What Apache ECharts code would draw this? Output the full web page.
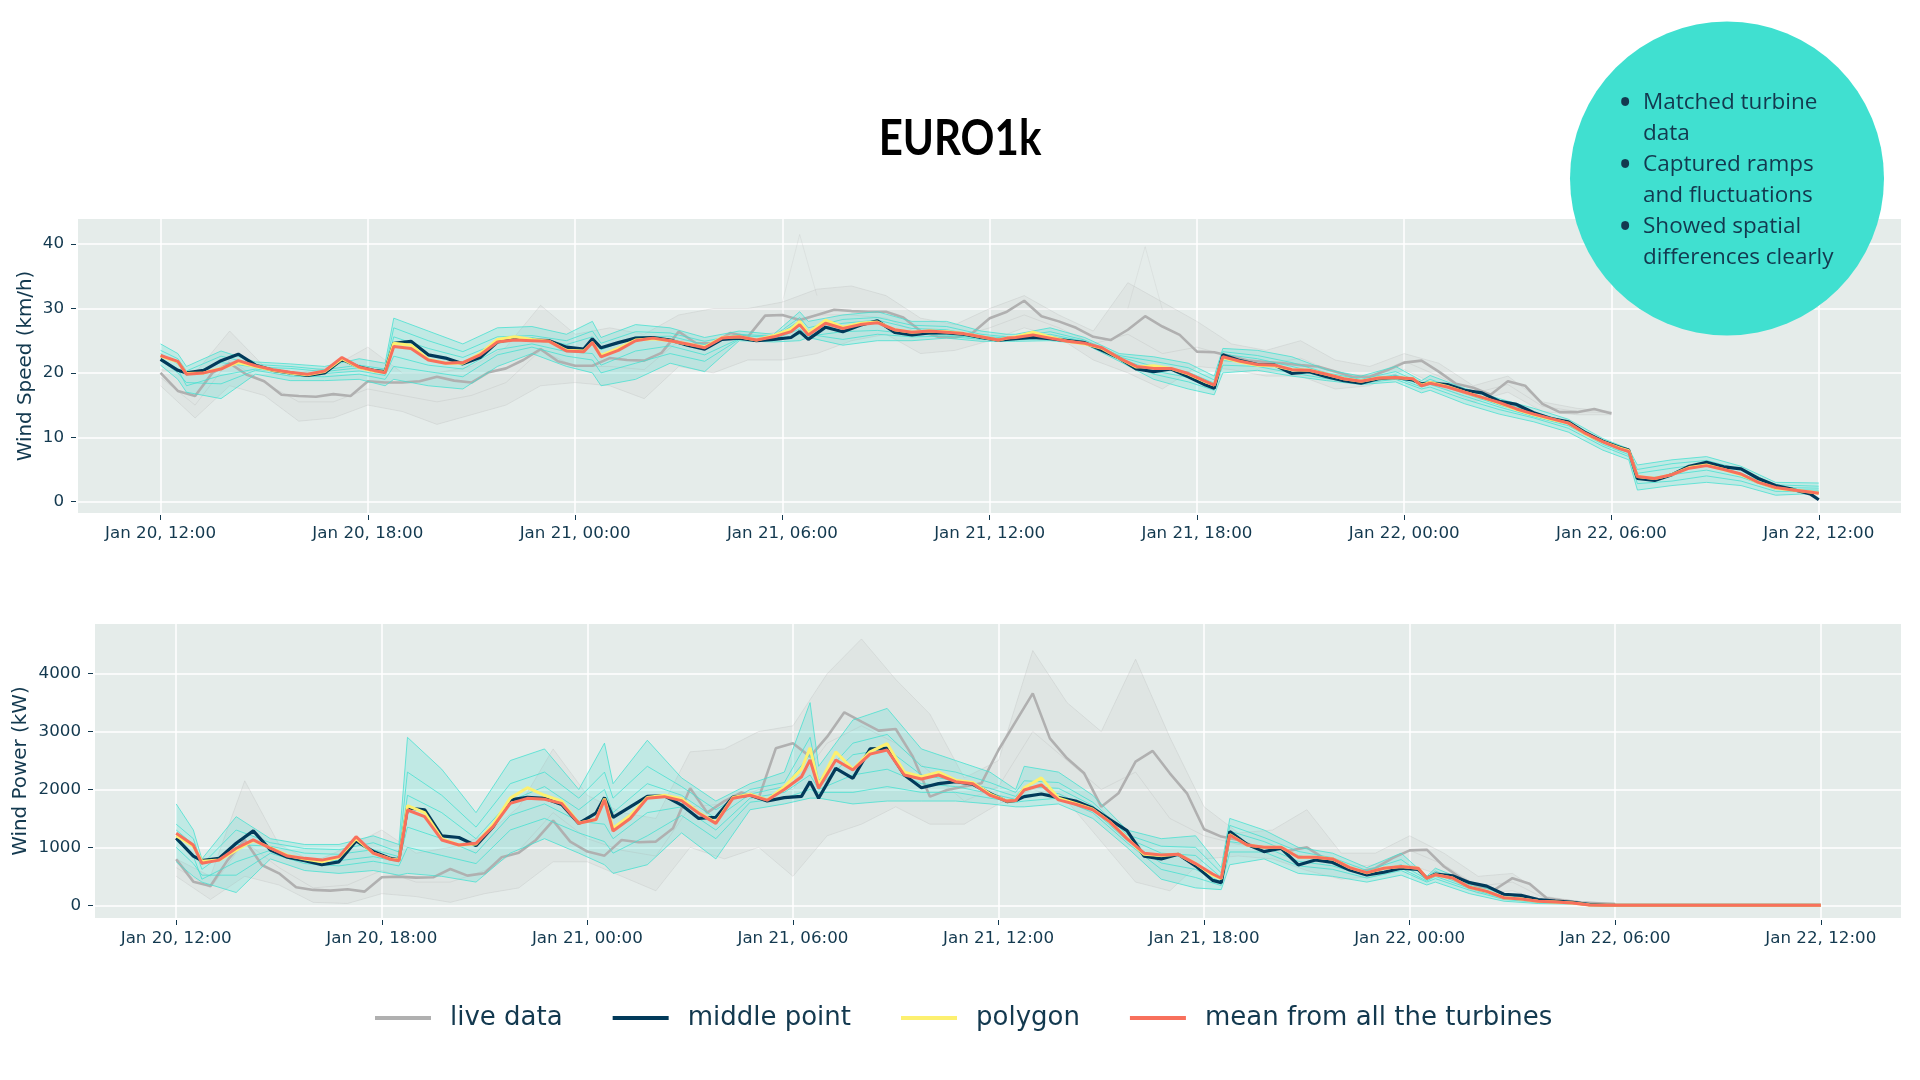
<!DOCTYPE html>
<html>
<head>
<meta charset="utf-8">
<title>EURO1k</title>
<script src="https://cdn.jsdelivr.net/npm/echarts@6/dist/echarts.min.js"></script>
<style>
html, body { margin: 0; padding: 0; background: #fff; }
#chart { width: 1920px; height: 1080px; }
</style>
</head>
<body>
<div id="chart"></div>
<script>
// hours after Jan 20, 12:00
var tickHours = [0, 6, 12, 18, 24, 30, 36, 42, 48];
var tickLabels = ['Jan 20, 12:00', 'Jan 20, 18:00', 'Jan 21, 00:00', 'Jan 21, 06:00', 'Jan 21, 12:00', 'Jan 21, 18:00', 'Jan 22, 00:00', 'Jan 22, 06:00', 'Jan 22, 12:00'];
var speedTicks = [0, 10, 20, 30, 40];
var powerTicks = [0, 1000, 2000, 3000, 4000];

var forecastHours = [0,
	.5,.75,1.25,1.75,2.25,2.75,3.25,3.75,4.25,4.75,5.25,5.75,6.25,
	6.5,6.75,7.25,7.75,8.25,8.75,9.25,9.75,10.25,10.75,11.25,11.75,12.25,
	12.5,12.75,13.25,13.75,14.25,14.75,15.25,15.75,16.25,16.75,17.25,17.75,18.25,
	18.5,18.75,19.25,19.75,20.25,20.75,21.25,21.75,22.25,22.75,23.25,23.75,24.25,
	24.5,24.75,25.25,25.75,26.25,26.75,27.25,27.75,28.25,28.75,29.25,29.75,30.25,
	30.5,30.75,31.25,31.75,32.25,32.75,33.25,33.75,34.25,34.75,35.25,35.75,36.25,
	36.5,36.75,37.25,37.75,38.25,38.75,39.25,39.75,40.25,40.75,41.25,41.75,42.25,
	42.5,42.75,43.25,43.75,44.25,44.75,45.25,45.75,46.25,46.75,47.25,47.75,48];
var memberHours = [0,
	.5,.75,1.75,2.75,3.75,4.75,5.75,
	6.5,6.75,7.75,8.75,9.75,10.75,11.75,
	12.5,12.75,13.75,14.75,15.75,16.75,17.75,
	18.5,18.75,19.75,20.75,21.75,22.75,23.75,
	24.5,24.75,25.75,26.75,27.75,28.75,29.75,
	30.5,30.75,31.75,32.75,33.75,34.75,35.75,
	36.5,36.75,37.75,38.75,39.75,40.75,41.75,
	42.5,42.75,43.75,44.75,45.75,46.75,48];
var liveHours = [0,.5,1,1.5,2,2.5,3,3.5,4,4.5,5,5.5,6,6.5,7,7.5,8,8.5,9,9.5,10,10.5,11,11.5,12,12.5,13,13.5,14,14.5,15,15.5,16,16.5,17,17.5,18,18.5,19,19.5,20,20.5,21,21.5,22,22.5,23,23.5,24,24.5,25,25.5,26,26.5,27,27.5,28,28.5,29,29.5,30,30.5,31,31.5,32,32.5,33,33.5,34,34.5,35,35.5,36,36.5,37,37.5,38,38.5,39,39.5,40,40.5,41,41.5,42];
var turbineHours = [0,1,2,3,4,5,6,7,8,9,10,11,12,13,14,15,16,17,18,19,20,21,22,23,24,25,26,27,28,29,30,31,32,33,34,35,36,37,38,39,40,41,42];

// wind speed, km/h
var speedMean = [22.7,
	21.8,19.8,20.0,20.6,21.9,21.1,20.5,20.1,19.8,20.3,22.4,20.9,20.3,
	20.0,24.1,23.8,22.0,21.5,21.6,22.8,24.8,25.1,25.0,24.9,23.4,23.3,
	24.7,22.5,23.5,25.0,25.4,25.0,24.5,23.9,25.4,25.6,25.1,25.6,26.4,
	27.5,25.9,27.7,26.9,27.5,27.8,26.7,26.3,26.5,26.3,26.1,25.6,25.1,
	25.4,25.5,25.9,25.4,24.9,24.6,23.9,22.3,21.0,20.7,20.7,19.9,18.7,
	18.1,22.5,21.8,21.3,21.2,20.5,20.4,19.8,19.1,18.7,19.2,19.3,19.1,
	18.0,18.4,17.8,17.0,16.2,15.4,14.4,13.6,12.9,12.2,10.6,9.3,8.2,
	7.8,3.9,3.6,4.2,5.2,5.6,5.0,4.3,3.0,2.2,1.8,1.5,1.3];
var speedMiddle = [22.1,
	20.4,20.0,20.4,21.9,22.9,21.2,20.4,20.0,19.6,20.0,22.1,20.9,20.3,
	20.2,24.6,24.9,22.8,22.3,21.4,22.4,24.8,25.4,25.1,25.0,24.0,23.7,
	25.3,23.9,24.7,25.4,25.5,25.1,24.3,23.7,25.2,25.4,25.0,25.2,25.5,
	26.4,25.2,27.1,26.4,27.4,28.1,26.3,25.9,26.2,26.2,26.0,25.5,25.1,
	25.2,25.3,25.5,25.3,25.0,24.7,23.5,22.3,20.6,20.2,20.6,19.4,18.1,
	17.6,22.8,21.9,21.3,21.2,19.9,20.2,19.4,18.8,18.4,19.1,19.3,18.9,
	18.3,18.4,18.2,17.3,16.9,15.6,15.1,13.8,12.9,12.4,10.7,9.4,8.4,
	8.0,3.6,3.3,4.2,5.5,6.1,5.4,5.1,3.6,2.5,1.9,1.2,0.3];
var speedPolygon = [22.6,
	21.7,19.9,20.0,20.7,21.6,21.0,20.4,20.0,19.7,20.2,22.2,20.8,20.2,
	20.1,24.6,24.3,22.1,21.5,21.5,23.0,25.2,25.6,25.2,24.9,23.5,23.4,
	24.7,22.7,23.8,25.1,25.3,25.0,24.5,24.0,25.5,25.6,25.1,25.8,26.8,
	28.0,26.2,28.2,27.1,27.7,27.9,26.7,26.3,26.5,26.4,26.1,25.6,25.1,
	25.4,25.6,26.3,25.6,24.9,24.5,23.8,22.3,20.9,21.1,20.7,19.8,18.6,
	18.1,22.4,21.7,21.2,21.1,20.5,20.4,19.8,19.1,18.7,19.2,19.3,19.1,
	18.1,18.5,17.9,17.0,16.2,15.3,14.3,13.5,12.8,12.2,10.5,9.3,8.3,
	7.9,3.9,3.6,4.2,5.3,5.7,5.0,4.2,3.0,2.1,1.8,1.5,1.3];
var speedLive = [20.0,17.2,16.4,20.0,21.5,19.7,18.7,16.6,16.4,16.3,16.7,16.4,18.7,18.5,18.5,18.7,19.4,18.8,18.5,20.1,20.7,22.0,23.7,21.8,21.1,21.1,22.3,22.0,21.9,23.1,26.4,24.6,24.6,26.2,25.6,28.9,29.0,28.2,29.0,29.8,29.6,29.5,29.5,28.6,26.5,25.6,25.5,26.2,28.5,29.5,31.2,28.8,28.0,27.0,25.6,25.1,26.7,28.8,27.2,25.9,23.3,23.2,22.6,21.9,21.7,21.5,21.2,21.0,20.2,19.4,19.4,20.4,21.6,21.9,20.2,18.3,17.7,16.6,18.7,18.0,15.2,13.9,13.9,14.4,13.7];
var speedPolyHi = [24.5,
	23,21,23.4,21.7,21.4,21,22.2,
	21.5,28.5,26.5,24.5,27,27.2,26,
	28,25.5,27.5,27,25.5,26.5,26,
	29.5,28,29,29.5,28,28,26.5,
	26,26,27,25.5,23,22.5,21.5,
	19.5,23.8,23.5,22.5,20.5,19.5,21,
	18.8,19.6,17.6,16,14.5,12.8,9.8,
	8.2,5.7,6.5,7,5.5,3,2.9];
var speedPolyUpper = [23.5,
	22.2,20.3,22.6,21.3,21,20.5,21.2,
	20.6,27,25,23.3,25.6,25.8,25,
	26.5,24.6,26.4,26.2,24.9,26,25.7,
	28.6,27,28.3,28.6,27.4,27.2,26,
	25.6,25.6,26.4,25.1,22.7,21.8,20.8,
	18.9,23.3,22.7,21.6,20,19,20.2,
	18.4,19,17.1,15.5,13.9,12.4,9.5,
	7.9,5,5.9,6.4,5,2.6,2.4];
var speedPolyA = [23,
	21.4,19.6,21.6,20.9,20.7,20.2,20.8,
	20.3,25.6,23.8,22.4,24.6,25.5,24.4,
	25.6,23.6,25.6,25.7,24.4,25.8,25.5,
	28.1,26.5,27.7,28.2,26.9,26.7,25.7,
	25.4,25.4,26,24.9,22.5,21,20.1,
	18.4,22.9,22.2,21,19.7,18.8,19.7,
	18.1,18.6,16.8,15,13.5,12.1,9.2,
	7.6,4.4,5.2,5.9,4.4,2.2,2.1];
var speedPolyB = [22.3,
	20.6,18,19.6,20.6,20,19.9,20.3,
	19.6,22.6,21.2,20.6,23.6,24.5,23.3,
	23,21.2,23.4,24.2,22.8,25.3,25.2,
	26.8,25.7,26.4,26.6,26,25.9,25.4,
	25.2,25.2,25.7,24.8,22.3,20.3,19.3,
	17.9,21.9,21.5,20.5,19.4,18.6,19.3,
	17.8,18.2,16.4,14.7,13.2,11.8,8.9,
	7.3,3.4,4.2,4.9,3.8,1.9,1.8];
var speedPolyLower = [22,
	20,18.5,18.3,20.4,19.5,19.4,19.8,
	19,21,20.2,19.4,22.8,24,22.6,
	22,20,21.5,23,21.8,25.2,25,
	26,26,25.2,26,25.6,25.7,25.2,
	25.1,25.1,25.4,24.7,22.1,19.8,18.6,
	17.3,21.2,21,20,19.1,18.4,19,
	17.5,17.8,15.9,14.3,13,11.4,8.6,
	7,2.8,3.2,4,3.2,1.6,1.6];
var speedPolyLo = [21.2,
	19,17,16,19.8,18.8,18.8,19,
	18,19,18,17.5,21,23,21,
	20,18,19,21.5,20.2,25,24.8,
	25,25.5,24.3,25,25,25.4,24.9,
	24.9,24.9,25,24.5,21.8,19,17.5,
	16.6,20,20.4,19.5,18.8,18.2,18.6,
	16.9,17.3,15.2,13.6,12.4,10.8,8,
	6.5,1.8,2.5,3,2.5,1,1.3];
var speedTurbHi = [20.5,20,26.5,21,20,21,24,20,20,21,24,30.5,26,27,26,29,30,30,31,33,33.5,32,28.5,27.5,30,32,29,26.5,34,31,28,24.5,23.5,25,22,21,23,21.5,18,19.5,15.5,14.5,14];
var speedTurbMid = [19.3,15,22,18.5,15.5,15.5,17.5,16.5,15.5,16.5,18.5,23.5,21,21,20.5,25,25,25.5,26.5,29,29,28.5,26,25.5,27,29,27,24.5,26,23,24,22.5,21.3,22.3,20,19.5,21.8,19.5,16.8,18.2,14.8,14,13.8];
var speedTurbLo = [18,13,18,16.5,12.5,13,15,14,12,13.5,15,18,18.5,18,16,21,20,22,22,23,25,26,23,23.5,25,27,25.5,22,20,17.5,21,20.5,19.5,19.5,17.5,18,20.5,18,15.5,17,14,13.5,13.5];
var spikeHours1 = [18, 18.5, 19];
var spikeValues1 = [31, 41.5, 32];
var spikeHours2 = [28, 28.5, 29];
var spikeValues2 = [30, 39.6, 29.8];

// wind power, kW
var powerMean = [1243,
	1040,725,780,985,1128,985,850,810,780,840,1185,900,795,
	770,1645,1530,1128,1040,1070,1358,1760,1847,1830,1760,1415,1480,
	1820,1283,1500,1850,1876,1807,1590,1415,1850,1900,1815,2000,2220,
	2510,2020,2510,2337,2610,2682,2250,2180,2250,2135,2100,1900,1800,
	1810,1990,2078,1820,1745,1650,1440,1150,900,870,880,720,540,
	466,1214,1040,1001,1001,829,829,800,650,564,640,670,640,
	468,526,470,310,240,130,110,70,55,40,5,0,0,
	0,0,0,0,0,0,0,0,0,0,0,0,0];
var powerMiddle = [1160,
	850,770,810,1070,1285,955,830,770,700,750,1110,930,810,
	785,1680,1650,1200,1170,1030,1358,1820,1865,1847,1740,1415,1590,
	1860,1520,1700,1880,1890,1730,1500,1520,1870,1900,1800,1860,1880,
	2135,1847,2365,2193,2700,2710,2250,2030,2100,2135,2090,1930,1790,
	1810,1876,1922,1860,1800,1680,1480,1290,850,800,880,680,430,
	391,1272,1053,926,984,696,783,740,610,524,570,640,620,
	468,537,510,390,330,190,170,100,70,50,10,0,0,
	0,0,0,0,0,0,0,0,0,0,0,0,0];
var powerPolygon = [1200,
	1020,760,780,950,1120,990,860,800,750,830,1150,900,800,
	780,1720,1600,1150,1040,1060,1400,1850,2030,1900,1800,1420,1480,
	1840,1330,1550,1860,1900,1840,1600,1430,1860,1920,1820,2050,2350,
	2720,2070,2650,2350,2650,2790,2300,2220,2300,2160,2120,1920,1800,
	1810,2030,2200,1850,1760,1660,1440,1160,880,860,880,720,520,
	460,1220,1040,1000,1000,830,830,800,650,560,640,670,640,
	468,526,470,310,240,130,110,70,55,40,5,0,0,
	0,0,0,0,0,0,0,0,0,0,0,0,0];
var powerLive = [794,408,334,780,1128,696,552,310,265,253,
	276,236,483,495,478,483,627,512,552,829,
	909,1128,1462,1100,927,857,1128,1088,1100,1330,
	2020,1600,1800,1950,1850,2710,2797,2567,2912,3332,
	3171,3016,3045,2567,1876,1990,2050,2106,2682,3171,
	3660,2883,2538,2279,1703,1934,2480,2665,2279,1934,
	1312,1186,1128,1013,984,944,1001,811,725,580,
	640,815,948,960,670,468,324,277,468,370,
	121,81,46,35,23];
var powerPolyHi = [1750,
	1300,800,1530,1150,1050,1050,1200,
	1050,2900,2350,1600,2500,2700,2000,
	2800,2100,2850,2200,1800,2100,2300,
	3500,2400,3200,3400,2700,2500,2300,
	2000,2400,2300,1900,1300,1150,1200,
	650,1500,1300,1000,900,650,900,
	500,640,400,180,90,50,10];
var powerPolyUpper = [1400,
	1150,700,1300,1080,980,960,1080,
	920,2300,1900,1350,2100,2300,1850,
	2300,1850,2400,2050,1650,2000,2120,
	2900,2150,2800,2950,2400,2300,2120,
	1950,2150,2120,1780,1220,1020,1000,
	560,1380,1170,930,820,600,790,
	480,590,350,150,75,40,5];
var powerPolyA = [1300,
	1050,620,1050,1020,900,880,960,
	840,1900,1600,1150,1800,2050,1650,
	2000,1600,2100,1900,1500,1920,2050,
	2600,2050,2600,2700,2250,2150,2020,
	1880,2050,2020,1720,1160,900,860,
	480,1280,1100,860,740,560,700,
	450,540,320,130,65,35,5];
var powerPolyB = [1120,
	850,450,750,950,800,770,840,
	750,1350,1150,900,1550,1750,1450,
	1400,1150,1600,1700,1300,1850,1950,
	2250,2000,2250,2350,2100,2050,1930,
	1830,1900,1930,1650,1120,730,620,
	400,1100,1010,760,680,510,640,
	420,500,290,115,58,32,3];
var powerPolyLower = [1000,
	720,520,520,900,720,680,760,
	680,1000,860,720,1300,1500,1250,
	1100,900,1200,1550,1150,1780,1850,
	2000,1950,1950,2050,1950,1950,1850,
	1780,1800,1850,1600,1080,620,480,
	340,920,920,680,620,470,600,
	400,460,260,100,50,30,0];
var powerPolyLo = [750,
	500,400,220,800,600,550,600,
	520,550,500,400,900,1150,900,
	700,550,700,1250,800,1650,1750,
	1850,1850,1750,1800,1800,1800,1750,
	1700,1700,1750,1500,1000,450,300,
	270,700,800,550,500,400,520,
	350,400,200,70,30,20,0];
var powerTurbHi = [800,500,2150,1050,750,1000,1300,900,1000,1200,1700,2700,1900,1600,1500,2650,2700,3000,3100,4000,4600,3900,3300,2200,2500,4400,3500,3000,4250,2900,1700,1250,1300,1650,900,900,1200,900,500,550,150,60,40];
var powerTurbMid = [650,300,1100,650,300,350,600,400,400,600,950,1600,1150,950,850,1700,1750,2000,2000,2800,3100,2800,2300,1800,2050,3000,2500,2000,2300,1500,1200,1050,1000,1000,650,700,950,700,330,400,100,40,20];
var powerTurbLo = [500,100,500,350,50,30,200,150,50,200,300,750,750,500,250,1000,800,1000,500,1200,1400,1700,1400,1400,1750,2000,1800,1100,400,250,800,850,800,600,450,500,700,500,200,250,60,20,5];

var noteLines = [
	[true, 'Matched turbine'],
	[false, 'data'],
	[true, 'Captured ramps'],
	[false, 'and fluctuations'],
	[true, 'Showed spatial'],
	[false, 'differences clearly']
];

var TEXT = '#13394f', TEAL = '#40e0d0', PANEL = '#e5ecea';
var COLORS = { live: '#b0b0b0', middle: '#023a5a', polygon: '#fdf06f', mean: '#f8705c' };

function pairs(hours, values){
	return values.map(function(v, i){ return [hours[i], v]; });
}

function mainLine(name, hours, values, grid, color, width){
	return {
		name: name, type: 'line', xAxisIndex: grid, yAxisIndex: grid,
		data: pairs(hours, values), showSymbol: false, silent: true,
		itemStyle: { color: color },
		lineStyle: { color: color, width: width }
	};
}
function thinLine(hours, values, grid, color, width){
	return {
		type: 'line', xAxisIndex: grid, yAxisIndex: grid,
		data: pairs(hours, values), showSymbol: false, silent: true,
		lineStyle: { color: color, width: width }
	};
}
// soft fill between the lowest and highest member line
function band(hours, lo, hi, grid, color){
	return {
		type: 'custom', xAxisIndex: grid, yAxisIndex: grid, silent: true, clip: true,
		data: [[hours[0], lo[0]]],
		renderItem: function(params, api){
			var pts = [];
			hi.forEach(function(v, i){ pts.push(api.coord([hours[i], v])); });
			for(var i = lo.length - 1; i >= 0; i--){
				pts.push(api.coord([hours[i], lo[i]]));
			}
			return { type: 'polygon', shape: { points: pts }, style: { fill: color } };
		}
	};
}

function panelSeries(grid, d){
	var s = [];
	s.push(band(turbineHours, d.turbLo, d.turbHi, grid, 'rgba(170,170,170,0.09)'));
	[d.turbHi, d.turbMid, d.turbLo].forEach(function(v){
		s.push(thinLine(turbineHours, v, grid, 'rgba(170,170,170,0.22)', 1));
	});
	(d.spikes || []).forEach(function(p){
		s.push(thinLine(p[0], p[1], grid, 'rgba(170,170,170,0.16)', 1));
	});
	s.push(mainLine('live data', liveHours, d.live, grid, COLORS.live, 2.6));
	s.push(band(memberHours, d.polyLo, d.polyHi, grid, 'rgba(64,224,208,0.22)'));
	d.members.forEach(function(v){
		s.push(thinLine(memberHours, v, grid, 'rgba(64,224,208,0.75)', 1));
	});
	s.push(mainLine('middle point', forecastHours, d.middle, grid, COLORS.middle, 3.2));
	s.push(mainLine('polygon', forecastHours, d.polygon, grid, COLORS.polygon, 3));
	s.push(mainLine('mean from all the turbines', forecastHours, d.mean, grid, COLORS.mean, 3));
	return s;
}

function xAxis(grid, minHour, maxHour){
	return {
		type: 'value', gridIndex: grid, min: minHour, max: maxHour, offset: 2,
		axisLine: { show: false, onZero: false },
		axisTick: { show: true, length: 5, customValues: tickHours, lineStyle: { color: TEXT } },
		axisLabel: {
			customValues: tickHours, color: TEXT, fontFamily: 'DejaVu Sans', fontSize: 16.7, margin: 10,
			formatter: function(value){ return tickLabels[tickHours.indexOf(value)] || ''; }
		},
		splitLine: { show: true, lineStyle: { color: '#fff', width: 1.5 } }
	};
}
function yAxis(grid, name, min, max, ticks, nameGap){
	return {
		type: 'value', gridIndex: grid, min: min, max: max, offset: 2,
		name: name, nameLocation: 'middle', nameGap: nameGap, nameMoveOverlap: false,
		nameTextStyle: { color: TEXT, fontFamily: 'DejaVu Sans', fontSize: 19.9 },
		axisLine: { show: false, onZero: false },
		axisTick: { show: true, length: 5, customValues: ticks, lineStyle: { color: TEXT } },
		axisLabel: {
			customValues: ticks, color: TEXT, fontFamily: 'DejaVu Sans', fontSize: 16.7, margin: 12,
			formatter: function(value){ return String(value); }
		},
		splitLine: { show: true, lineStyle: { color: '#fff', width: 1.5 } }
	};
}

var graphics = [{
	type: 'text', x: 960, y: 139, scaleX: 0.84,
	style: { text: 'EURO1k', fill: '#000', font: '700 50px Lato', textAlign: 'center', textVerticalAlign: 'middle' }
}, {
	type: 'circle', z: 100, shape: { cx: 1727, cy: 178.5, r: 157 }, style: { fill: TEAL }
}];
noteLines.forEach(function(line, i){
	var y = 103 + i * 31;
	if(line[0]){
		graphics.push({ type: 'text', z: 101, x: 1618, y: y + 2,
			style: { text: '•', fill: TEXT, font: '38px "Open Sans"', textVerticalAlign: 'middle' } });
	}
	graphics.push({ type: 'text', z: 101, x: 1643, y: y,
		style: { text: line[1], fill: TEXT, font: '22.5px "Open Sans"', textVerticalAlign: 'middle' } });
});

var chart = echarts.init(document.getElementById('chart'));
chart.setOption({
	animation: false,
	backgroundColor: '#fff',
	legend: {
		left: 370, top: 1000, itemWidth: 56, itemHeight: 4, itemGap: 50, icon: 'rect',
		data: ['live data', 'middle point', 'polygon', 'mean from all the turbines'],
		textStyle: { color: TEXT, fontFamily: 'DejaVu Sans', fontSize: 26, padding: [0, 0, 0, 14] }
	},
	grid: [
		{ left: 78, right: 19, top: 219, height: 294, show: true, backgroundColor: PANEL, borderWidth: 0 },
		{ left: 95, right: 19, top: 624, height: 294, show: true, backgroundColor: PANEL, borderWidth: 0 }
	],
	xAxis: [xAxis(0, -2.39, 50.38), xAxis(1, -2.37, 50.34)],
	yAxis: [
		yAxis(0, 'Wind Speed (km/h)', -1.76, 43.9, speedTicks, 40),
		yAxis(1, 'Wind Power (kW)', -220, 4858, powerTicks, 62)
	],
	series: panelSeries(0, {
		mean: speedMean, middle: speedMiddle, polygon: speedPolygon, live: speedLive,
		polyHi: speedPolyHi, polyLo: speedPolyLo,
		members: [speedPolyHi, speedPolyUpper, speedPolyA, speedPolyB, speedPolyLower, speedPolyLo],
		turbHi: speedTurbHi, turbMid: speedTurbMid, turbLo: speedTurbLo,
		spikes: [[spikeHours1, spikeValues1], [spikeHours2, spikeValues2]]
	}).concat(panelSeries(1, {
		mean: powerMean, middle: powerMiddle, polygon: powerPolygon, live: powerLive,
		polyHi: powerPolyHi, polyLo: powerPolyLo,
		members: [powerPolyHi, powerPolyUpper, powerPolyA, powerPolyB, powerPolyLower, powerPolyLo],
		turbHi: powerTurbHi, turbMid: powerTurbMid, turbLo: powerTurbLo
	})),
	graphic: graphics
});
</script>
</body>
</html>
